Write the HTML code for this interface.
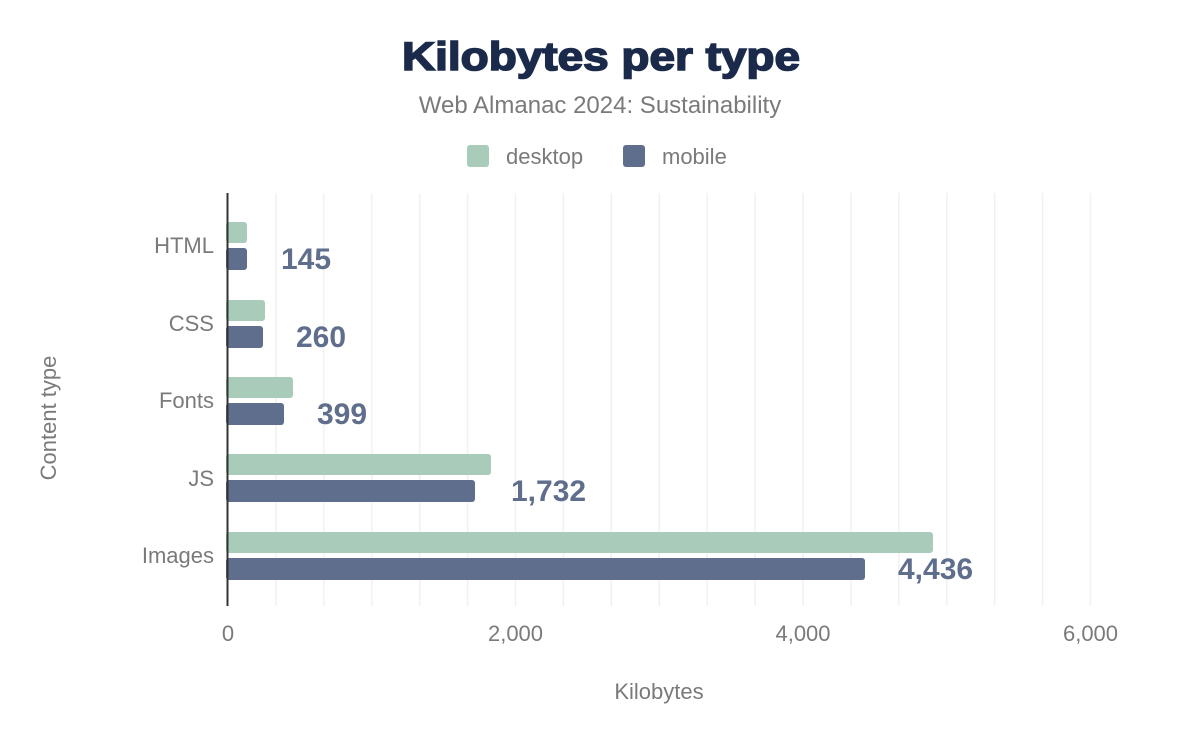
<!DOCTYPE html>
<html><head><style>body{margin:0;background:#fff}svg{display:block}</style></head><body>
<svg width="1200" height="742" xmlns="http://www.w3.org/2000/svg" font-family="Liberation Sans, Arial, sans-serif">
<rect width="1200" height="742" fill="#fff"/>
<text x="402" y="70" textLength="398" lengthAdjust="spacingAndGlyphs" font-size="40" font-weight="bold" fill="#1b2a4a" stroke="#1b2a4a" stroke-width="1.6">Kilobytes per type</text>
<text x="600" y="113" text-anchor="middle" font-size="24" fill="#7a7a7a">Web Almanac 2024: Sustainability</text>
<rect x="467" y="145" width="22" height="22" rx="3" fill="#a8cbba"/>
<text x="506" y="164" font-size="22" fill="#7a7a7a">desktop</text>
<rect x="623" y="145" width="22" height="22" rx="3" fill="#5e6e8c"/>
<text x="662" y="164" font-size="22" fill="#7a7a7a">mobile</text>
<g stroke="#f1f1f1" stroke-width="1.5">
<line x1="275.9" y1="193" x2="275.9" y2="606"/><line x1="323.8" y1="193" x2="323.8" y2="606"/><line x1="371.8" y1="193" x2="371.8" y2="606"/><line x1="419.7" y1="193" x2="419.7" y2="606"/><line x1="467.6" y1="193" x2="467.6" y2="606"/><line x1="515.5" y1="193" x2="515.5" y2="606"/><line x1="563.4" y1="193" x2="563.4" y2="606"/><line x1="611.3" y1="193" x2="611.3" y2="606"/><line x1="659.3" y1="193" x2="659.3" y2="606"/><line x1="707.2" y1="193" x2="707.2" y2="606"/><line x1="755.1" y1="193" x2="755.1" y2="606"/><line x1="803" y1="193" x2="803" y2="606"/><line x1="850.9" y1="193" x2="850.9" y2="606"/><line x1="898.8" y1="193" x2="898.8" y2="606"/><line x1="946.8" y1="193" x2="946.8" y2="606"/><line x1="994.7" y1="193" x2="994.7" y2="606"/><line x1="1042.6" y1="193" x2="1042.6" y2="606"/><line x1="1090.5" y1="193" x2="1090.5" y2="606"/>
</g>
<g fill="#a8cbba">
<rect x="226" y="222" width="21" height="21" rx="3"/>
<rect x="226" y="300" width="39" height="21" rx="3"/>
<rect x="226" y="377" width="67" height="21" rx="3"/>
<rect x="226" y="454" width="265" height="21" rx="3"/>
<rect x="226" y="532" width="707" height="21" rx="3"/>
</g>
<g fill="#5e6e8c">
<rect x="226" y="248" width="21" height="22" rx="3"/>
<rect x="226" y="326" width="37" height="22" rx="3"/>
<rect x="226" y="403" width="58" height="22" rx="3"/>
<rect x="226" y="480" width="249" height="22" rx="3"/>
<rect x="226" y="558" width="639" height="22" rx="3"/>
</g>
<line x1="227.5" y1="193" x2="227.5" y2="606" stroke="#333" stroke-width="2"/>
<g font-size="30" font-weight="bold" fill="#5e6e8c">
<text x="281" y="269">145</text>
<text x="296" y="347">260</text>
<text x="317" y="424">399</text>
<text x="511" y="501">1,732</text>
<text x="898" y="579">4,436</text>
</g>
<g font-size="22" fill="#7a7a7a" text-anchor="end">
<text x="214" y="253">HTML</text>
<text x="214" y="331">CSS</text>
<text x="214" y="408">Fonts</text>
<text x="214" y="486">JS</text>
<text x="214" y="563">Images</text>
</g>
<g font-size="22" fill="#7a7a7a" text-anchor="middle">
<text x="228" y="641">0</text>
<text x="515.5" y="641">2,000</text>
<text x="803" y="641">4,000</text>
<text x="1090.5" y="641">6,000</text>
<text x="659" y="699">Kilobytes</text>
<text transform="translate(56,418) rotate(-90)">Content type</text>
</g>
</svg>
</body></html>
